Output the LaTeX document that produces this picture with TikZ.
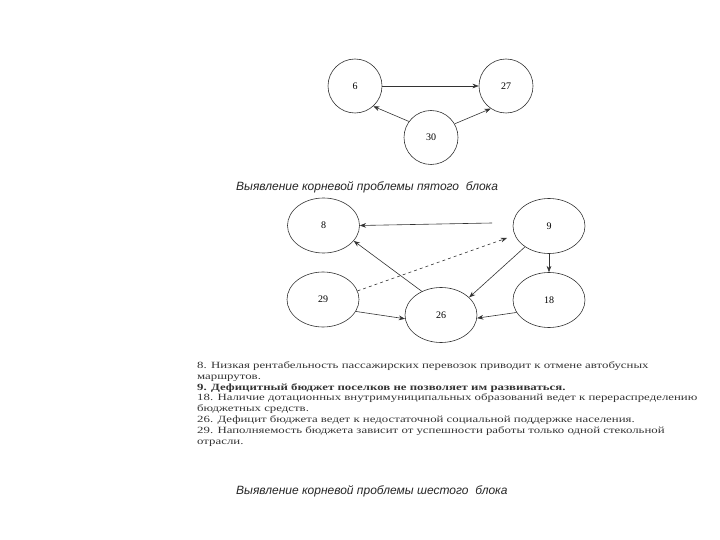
\documentclass[tikz,border=0pt]{standalone}
\usepackage{fontspec}
\setmainfont{Liberation Serif}
\newfontfamily\capfont{Liberation Sans}
\newfontfamily\listfont[FakeStretch=1.35]{Liberation Serif}
\usetikzlibrary{shapes.geometric}
\usetikzlibrary{arrows.meta}
\tikzset{>={Stealth[scale=1.1]}}
\tikzset{
  krug/.style={circle,draw=black!80,line width=0.6pt,minimum size=54pt,inner sep=0pt,font=\fontsize{10}{11}\selectfont},
  oval/.style={ellipse,draw=black!80,line width=0.6pt,minimum width=72pt,minimum height=55pt,inner sep=0pt,font=\fontsize{10}{11}\selectfont},
  svyaz/.style={->,draw=black!80,line width=0.6pt},
  podpis/.style={anchor=west,inner sep=0pt,font=\capfont\itshape\fontsize{12}{13}\selectfont,text=black!85}
}

\begin{document}
\begin{tikzpicture}[x=1pt,y=-1pt]
  \useasboundingbox (0,0) rectangle (720,540);

  % пятый блок
  \node[krug] (n6) at (355,86) {6};
  \node[krug] (n27) at (506,86) {27};
  \node[krug] (n30) at (431,137.5) {30};

  \draw[svyaz] (n6.east) -- (n27.west);
  \draw[svyaz] (n30.144) -- (n6.-48);
  \draw[svyaz] (n30.30) -- (n27.-124);

  \node[podpis] (cap5) at (236,187) {Выявление корневой проблемы пятого\ \ блока};

  % шестой блок
  \node[oval] (n8) at (323.5,225.5) {8};
  \node[oval] (n9) at (549,226) {9};
  \node[oval] (n29) at (323,299.5) {29};
  \node[oval] (n26) at (441,315) {26};
  \node[oval] (n18) at (549,300) {18};

  \coordinate (s9) at (492,223);
  \coordinate (e9) at (507,238);

  \draw[svyaz] (s9) -- (n8.east);
  \draw[svyaz] (n26.129) -- (n8.-27);
  \draw[svyaz,dashed] (n29.14) -- (e9);
  \draw[svyaz] (n9.-139) -- (n26.32);
  \draw[svyaz] (n9.south) -- (n18.north);
  \draw[svyaz] (n29.-20) -- (n26.-174);
  \draw[svyaz] (n18.-159) -- (n26.-5);

  % пояснения
  \node[anchor=north west,inner sep=0pt,align=left,text=black!80,
        font=\listfont\fontsize{9.5}{10.8}\selectfont] (spisok) at (197,361.5)
  {8. Низкая рентабельность пассажирских перевозок приводит к отмене автобусных\\
   маршрутов.\\
   \textbf{9. Дефицитный бюджет поселков не позволяет им развиваться.}\\
   18. Наличие дотационных внутримуниципальных образований ведет к перераспределению\\
   бюджетных средств.\\
   26. Дефицит бюджета ведет к недостаточной социальной поддержке населения.\\
   29. Наполняемость бюджета зависит от успешности работы только одной стекольной\\
   отрасли.};

  \node[podpis] (cap6) at (236,491) {Выявление корневой проблемы шестого\ \ блока};
\end{tikzpicture}
\end{document}
